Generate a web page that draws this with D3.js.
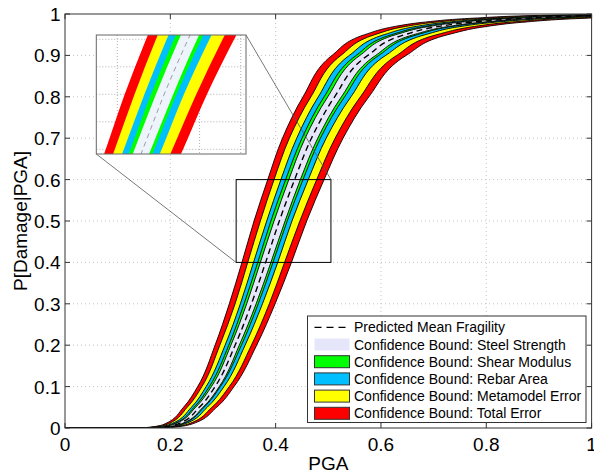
<!DOCTYPE html>
<html>
<head>
<meta charset="utf-8">
<script src="https://cdn.jsdelivr.net/npm/d3@7"></script>
<style>
  body { margin: 0; background: #fff; }
  svg { display: block; font-family: "Liberation Sans", Arial, sans-serif; }
</style>
</head>
<body>
<svg id="chart" width="594" height="473"></svg>
<script>
var pLevels = [0, 0.001, 0.01, 0.05, 0.1, 0.2, 0.3, 0.4, 0.5, 0.6, 0.7, 0.8, 0.9, 0.95, 0.97, 0.98, 0.99, 0.997, 0.999];

var meanFragility = [0, 0.175, 0.215, 0.255, 0.285, 0.323, 0.354, 0.381, 0.407, 0.436, 0.468, 0.512, 0.575, 0.645, 0.71, 0.77, 0.88, 1.04, 1.2];

// lower / upper bounds of each confidence band (PGA at each level)
var totalLo  = [0, 0.154, 0.190, 0.225, 0.252, 0.285, 0.312, 0.336, 0.359, 0.385, 0.413, 0.452, 0.507, 0.569, 0.627, 0.680, 0.777, 0.918, 1.059];
var totalHi  = [0, 0.197, 0.242, 0.288, 0.321, 0.364, 0.399, 0.430, 0.459, 0.492, 0.528, 0.577, 0.648, 0.727, 0.801, 0.868, 0.992, 1.173, 1.353];
var metaLo   = [0, 0.159, 0.196, 0.232, 0.260, 0.294, 0.323, 0.347, 0.371, 0.397, 0.426, 0.467, 0.524, 0.588, 0.647, 0.702, 0.802, 0.948, 1.093];
var metaHi   = [0, 0.192, 0.235, 0.279, 0.312, 0.354, 0.388, 0.417, 0.446, 0.478, 0.513, 0.561, 0.630, 0.706, 0.778, 0.843, 0.964, 1.139, 1.314];
var rebarLo  = [0, 0.164, 0.202, 0.240, 0.268, 0.304, 0.333, 0.358, 0.383, 0.410, 0.440, 0.481, 0.540, 0.606, 0.667, 0.724, 0.827, 0.978, 1.128];
var rebarHi  = [0, 0.185, 0.228, 0.270, 0.302, 0.342, 0.375, 0.404, 0.431, 0.462, 0.496, 0.543, 0.609, 0.684, 0.752, 0.816, 0.933, 1.102, 1.272];
var shearLo  = [0, 0.168, 0.207, 0.245, 0.274, 0.311, 0.340, 0.366, 0.391, 0.419, 0.450, 0.492, 0.553, 0.620, 0.683, 0.741, 0.846, 1.000, 1.154];
var shearHi  = [0, 0.181, 0.223, 0.264, 0.295, 0.335, 0.367, 0.395, 0.422, 0.452, 0.485, 0.531, 0.596, 0.669, 0.736, 0.798, 0.912, 1.078, 1.244];
var steelLo  = [0, 0.171, 0.209, 0.248, 0.278, 0.315, 0.345, 0.371, 0.397, 0.425, 0.456, 0.499, 0.560, 0.628, 0.692, 0.750, 0.857, 1.013, 1.169];
var steelHi  = [0, 0.180, 0.221, 0.262, 0.293, 0.331, 0.363, 0.391, 0.418, 0.447, 0.480, 0.525, 0.590, 0.662, 0.729, 0.790, 0.903, 1.067, 1.232];

var xTicks = [0, 0.2, 0.4, 0.6, 0.8, 1];
var yTicks = [0, 0.1, 0.2, 0.3, 0.4, 0.5, 0.6, 0.7, 0.8, 0.9, 1];
var insetXTicks = [0.35, 0.4, 0.45, 0.5];
var insetYTicks = [0.4, 0.45, 0.5, 0.55, 0.6];

var legendNames = ["Predicted Mean Fragility", "Confidence Bound: Steel Strength", "Confidence Bound: Shear Modulus",
                   "Confidence Bound: Rebar Area", "Confidence Bound: Metamodel Error", "Confidence Bound: Total Error"];

// bands, widest first so the narrower ones sit on top
var bands = [
  {lo: totalLo, hi: totalHi, color: "#ff0000"},
  {lo: metaLo,  hi: metaHi,  color: "#ffff00"},
  {lo: rebarLo, hi: rebarHi, color: "#00bfff"},
  {lo: shearLo, hi: shearHi, color: "#00ff00"},
  {lo: steelLo, hi: steelHi, color: "#e6e6fa"}
];

var svg = d3.select("#chart"),
    margin = {top: 14, right: 2.4, bottom: 45, left: 65},
    width = 594 - margin.left - margin.right,
    height = 473 - margin.top - margin.bottom;

var x = d3.scaleLinear().domain([0, 1]).range([margin.left, margin.left + width]);
var y = d3.scaleLinear().domain([0, 1]).range([margin.top + height, margin.top]);

var defs = svg.append("defs");
defs.append("clipPath").attr("id", "plotclip").append("rect")
    .attr("x", x(0)).attr("y", y(1)).attr("width", width).attr("height", height);

// grid
var grid = svg.append("g").attr("stroke", "#c4c4c4").attr("stroke-width", 1).attr("stroke-dasharray", "1,3");
grid.selectAll(".gx").data(xTicks.slice(1, -1)).enter().append("line")
    .attr("x1", function(d) { return x(d); }).attr("x2", function(d) { return x(d); })
    .attr("y1", y(0)).attr("y2", y(1));
grid.selectAll(".gy").data(yTicks.slice(1, -1)).enter().append("line")
    .attr("y1", function(d) { return y(d); }).attr("y2", function(d) { return y(d); })
    .attr("x1", x(0)).attr("x2", x(1));

function rows(lo, hi) {
  return pLevels.map(function(p, i) { return {p: p, lo: lo[i], hi: hi[i]}; });
}

function drawBands(g, sx, sy, edges, meanStyle) {
  var area = d3.area().curve(d3.curveMonotoneY)
      .y(function(d) { return sy(d.p); })
      .x0(function(d) { return sx(d.lo); })
      .x1(function(d) { return sx(d.hi); });
  var line = d3.line().curve(d3.curveMonotoneY)
      .y(function(d) { return sy(d.p); })
      .x(function(d) { return sx(d.v); });
  bands.forEach(function(b) {
    var data = rows(b.lo, b.hi);
    g.append("path").datum(data).attr("d", area).attr("fill", b.color).attr("stroke", "none");
    if (edges) {
      [b.lo, b.hi].forEach(function(arr) {
        g.append("path").datum(pLevels.map(function(p, i) { return {p: p, v: arr[i]}; }))
          .attr("d", line).attr("fill", "none").attr("stroke", "#000").attr("stroke-width", 0.9);
      });
    }
  });
  g.append("path").datum(pLevels.map(function(p, i) { return {p: p, v: meanFragility[i]}; }))
    .attr("d", line).attr("fill", "none")
    .attr("stroke", meanStyle.color).attr("stroke-width", meanStyle.width)
    .attr("stroke-dasharray", meanStyle.dash);
}

var plot = svg.append("g").attr("clip-path", "url(#plotclip)");
drawBands(plot, x, y, true, {color: "#000", width: 1.4, dash: "6,4"});

// zoom window
var zx0 = 0.325, zx1 = 0.505, zy0 = 0.4, zy1 = 0.6;
svg.append("rect")
    .attr("x", x(zx0)).attr("y", y(zy1))
    .attr("width", x(zx1) - x(zx0)).attr("height", y(zy0) - y(zy1))
    .attr("fill", "none").attr("stroke", "#000").attr("stroke-width", 1);

// axes box and ticks
var axes = svg.append("g").attr("stroke", "#333").attr("stroke-width", 1);
axes.append("rect").attr("x", x(0)).attr("y", y(1)).attr("width", width).attr("height", height).attr("fill", "none");
xTicks.forEach(function(t) {
  axes.append("line").attr("x1", x(t)).attr("x2", x(t)).attr("y1", y(0)).attr("y2", y(0) - 5);
  axes.append("line").attr("x1", x(t)).attr("x2", x(t)).attr("y1", y(1)).attr("y2", y(1) + 5);
});
yTicks.forEach(function(t) {
  axes.append("line").attr("y1", y(t)).attr("y2", y(t)).attr("x1", x(0)).attr("x2", x(0) + 5);
  axes.append("line").attr("y1", y(t)).attr("y2", y(t)).attr("x1", x(1)).attr("x2", x(1) - 5);
});

svg.append("g").selectAll("text").data(xTicks).enter().append("text")
    .attr("x", function(d) { return x(d); }).attr("y", 451)
    .attr("text-anchor", "middle").attr("font-size", 19).attr("fill", "#000")
    .text(function(d) { return d3.format("~g")(d); });
svg.append("g").selectAll("text").data(yTicks).enter().append("text")
    .attr("x", 60.5).attr("y", function(d) { return y(d) + 7; })
    .attr("text-anchor", "end").attr("font-size", 19).attr("fill", "#000")
    .text(function(d) { return d3.format("~g")(d); });

svg.append("text").attr("x", x(0.5)).attr("y", 470)
    .attr("text-anchor", "middle").attr("font-size", 19).text("PGA");
svg.append("text").attr("transform", "translate(27," + y(0.5) + ") rotate(-90)")
    .attr("text-anchor", "middle").attr("font-size", 19).text("P[Damage|PGA]");

// inset
var ix0 = 96.3, ix1 = 246, iy0 = 35, iy1 = 154;
var xi = d3.scaleLinear().domain([0.3245, 0.5064]).range([ix0, ix1]);
var yi = d3.scaleLinear().domain([0.3915, 0.6078]).range([iy1, iy0]);
defs.append("clipPath").attr("id", "insetclip").append("rect")
    .attr("x", ix0).attr("y", iy0).attr("width", ix1 - ix0).attr("height", iy1 - iy0);

// connector lines
svg.append("line").attr("x1", ix0).attr("y1", iy1).attr("x2", x(zx0)).attr("y2", y(zy0))
    .attr("stroke", "#555").attr("stroke-width", 0.8);
svg.append("line").attr("x1", ix1).attr("y1", iy0).attr("x2", x(zx1)).attr("y2", y(zy1))
    .attr("stroke", "#555").attr("stroke-width", 0.8);

svg.append("rect").attr("x", ix0).attr("y", iy0).attr("width", ix1 - ix0).attr("height", iy1 - iy0).attr("fill", "#fff");
var igrid = svg.append("g").attr("stroke", "#9a9a9a").attr("stroke-width", 0.8).attr("stroke-dasharray", "1,2");
insetXTicks.forEach(function(t) {
  igrid.append("line").attr("x1", xi(t)).attr("x2", xi(t)).attr("y1", iy0).attr("y2", iy1);
});
insetYTicks.forEach(function(t) {
  igrid.append("line").attr("y1", yi(t)).attr("y2", yi(t)).attr("x1", ix0).attr("x2", ix1);
});
var inset = svg.append("g").attr("clip-path", "url(#insetclip)");
bands[4].color = "#eef4fc";
drawBands(inset, xi, yi, false, {color: "#888", width: 0.8, dash: "5,4"});
svg.append("rect").attr("x", ix0).attr("y", iy0).attr("width", ix1 - ix0).attr("height", iy1 - iy0)
    .attr("fill", "none").attr("stroke", "#666").attr("stroke-width", 1);

// legend
var swatchColors = [null, "#e6e6fa", "#00ff00", "#00bfff", "#ffff00", "#ff0000"];
var lg = svg.append("g");
lg.append("rect").attr("x", 307.5).attr("y", 316).attr("width", 278.5).attr("height", 106.5)
    .attr("fill", "#fff").attr("stroke", "#333").attr("stroke-width", 1);
var item = lg.selectAll("g.item").data(legendNames).enter().append("g")
    .attr("transform", function(d, i) { return "translate(0," + (327.3 + i * 17.2) + ")"; });
item.each(function(d, i) {
  var g = d3.select(this);
  if (i === 0) {
    g.append("line").attr("x1", 314.5).attr("x2", 349.5).attr("y1", 0).attr("y2", 0)
      .attr("stroke", "#000").attr("stroke-width", 1.2).attr("stroke-dasharray", "7,5");
  } else {
    g.append("rect").attr("x", 314.5).attr("y", -6).attr("width", 35).attr("height", 12)
      .attr("fill", swatchColors[i]).attr("stroke", i === 1 ? "none" : "#333").attr("stroke-width", 1);
  }
  g.append("text").attr("x", 354).attr("y", 5).attr("font-size", 14).attr("fill", "#000").text(d);
});
</script>
</body>
</html>
